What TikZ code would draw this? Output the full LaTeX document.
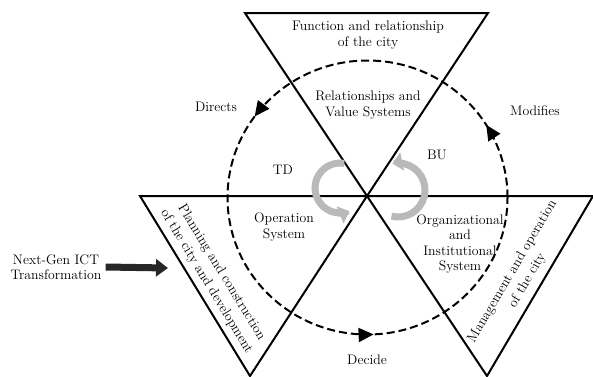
\documentclass[tikz,border=0pt]{standalone}
\usetikzlibrary{positioning}
\usetikzlibrary{calc}
\usetikzlibrary{arrows.meta}
\usetikzlibrary{decorations.markings}

\begin{document}
\begin{tikzpicture}[x=1pt,y=1pt,
        lbl/.style={font=\fontsize{13.8}{15.5}\selectfont, align=center, inner sep=1pt},
        slant/.style={lbl, font=\fontsize{13.8}{17.5}\selectfont},
        frame/.style={line width=2pt, line join=miter},
        ring/.style={line width=2pt, dash pattern=on 8pt off 4pt},
        turn/.style={line width=7pt, gray!55, -{Triangle[length=10pt,width=18pt]}}
    ]
                \useasboundingbox (0,0) rectangle (593,-376);

                % Corners of the three triangles
                \coordinate (O) at (367,-196);
                \coordinate (T1) at (245,-13);
                \coordinate (T2) at (488,-13);
                \coordinate (L) at (140,-196);
                \coordinate (R) at (593,-196);
                \coordinate (B1) at (250,-376);
                \coordinate (B2) at (487,-376);

                % Triangles
                \draw[frame] (T1) -- (T2) -- (O) -- cycle;
                \draw[frame] (L) -- (O) -- (B1) -- cycle;
                \draw[frame] (O) -- (R) -- (B2) -- cycle;

                % Dashed ring with its arrows
                \draw[ring, postaction={decorate}, decoration={markings,
                    mark=at position 0.088 with {\arrow{Triangle[length=15pt,width=14pt]}},
                    mark=at position 0.40 with {\arrow{Triangle[length=15pt,width=14pt]}},
                    mark=at position 0.757 with {\arrow{Triangle[length=15pt,width=14pt]}}}]
                    (367.5,-197.5) ++(0:140) arc[start angle=0, end angle=360, x radius=140, y radius=137];

                % Turning arrows
                \coordinate (tdc) at (340,-188);
                \coordinate (buc) at (398,-190);
                \draw[turn] (tdc) ++(80:25) arc[start angle=80, end angle=292, radius=25];
                \draw[turn] (buc) ++(-104:27) arc[start angle=-104, end angle=102, radius=27];

                % Texts in the triangles
                \node[lbl] (func) at (368,-35) {Function and relationship\\of the city};
                \node[lbl] (rel) at (368,-105) {Relationships and\\Value Systems};
                \node[lbl] (oper) at (284,-227) {Operation\\System};
                \node[lbl] (org) at (460,-244) {Organizational\\and\\Institutional\\System};
                \node[slant, rotate=-58.6] (plan) at (214,-277) {Planning and construction\\of the city and development};
                \node[slant, rotate=59.5] (mgmt) at (520,-276) {Management and operation\\of the city};

                % Labels of the ring
                \node[lbl] (dir) at (216,-107) {Directs};
                \node[lbl] (mod) at (535,-111) {Modifies};
                \node[lbl] (dec) at (367,-360) {Decide};
                \node[lbl] (td) at (283,-170) {TD};
                \node[lbl] (bu) at (437,-155) {BU};

                % Input
                \node[lbl] (ict) at (56,-267) {Next-Gen ICT\\Transformation};
                \coordinate (ictend) at (168,-268);
                \draw[line width=7pt, gray!30!black, -{Triangle[length=12pt,width=17pt]}] ([xshift=3pt]ict.east) -- (ictend);
\end{tikzpicture}
\end{document}
